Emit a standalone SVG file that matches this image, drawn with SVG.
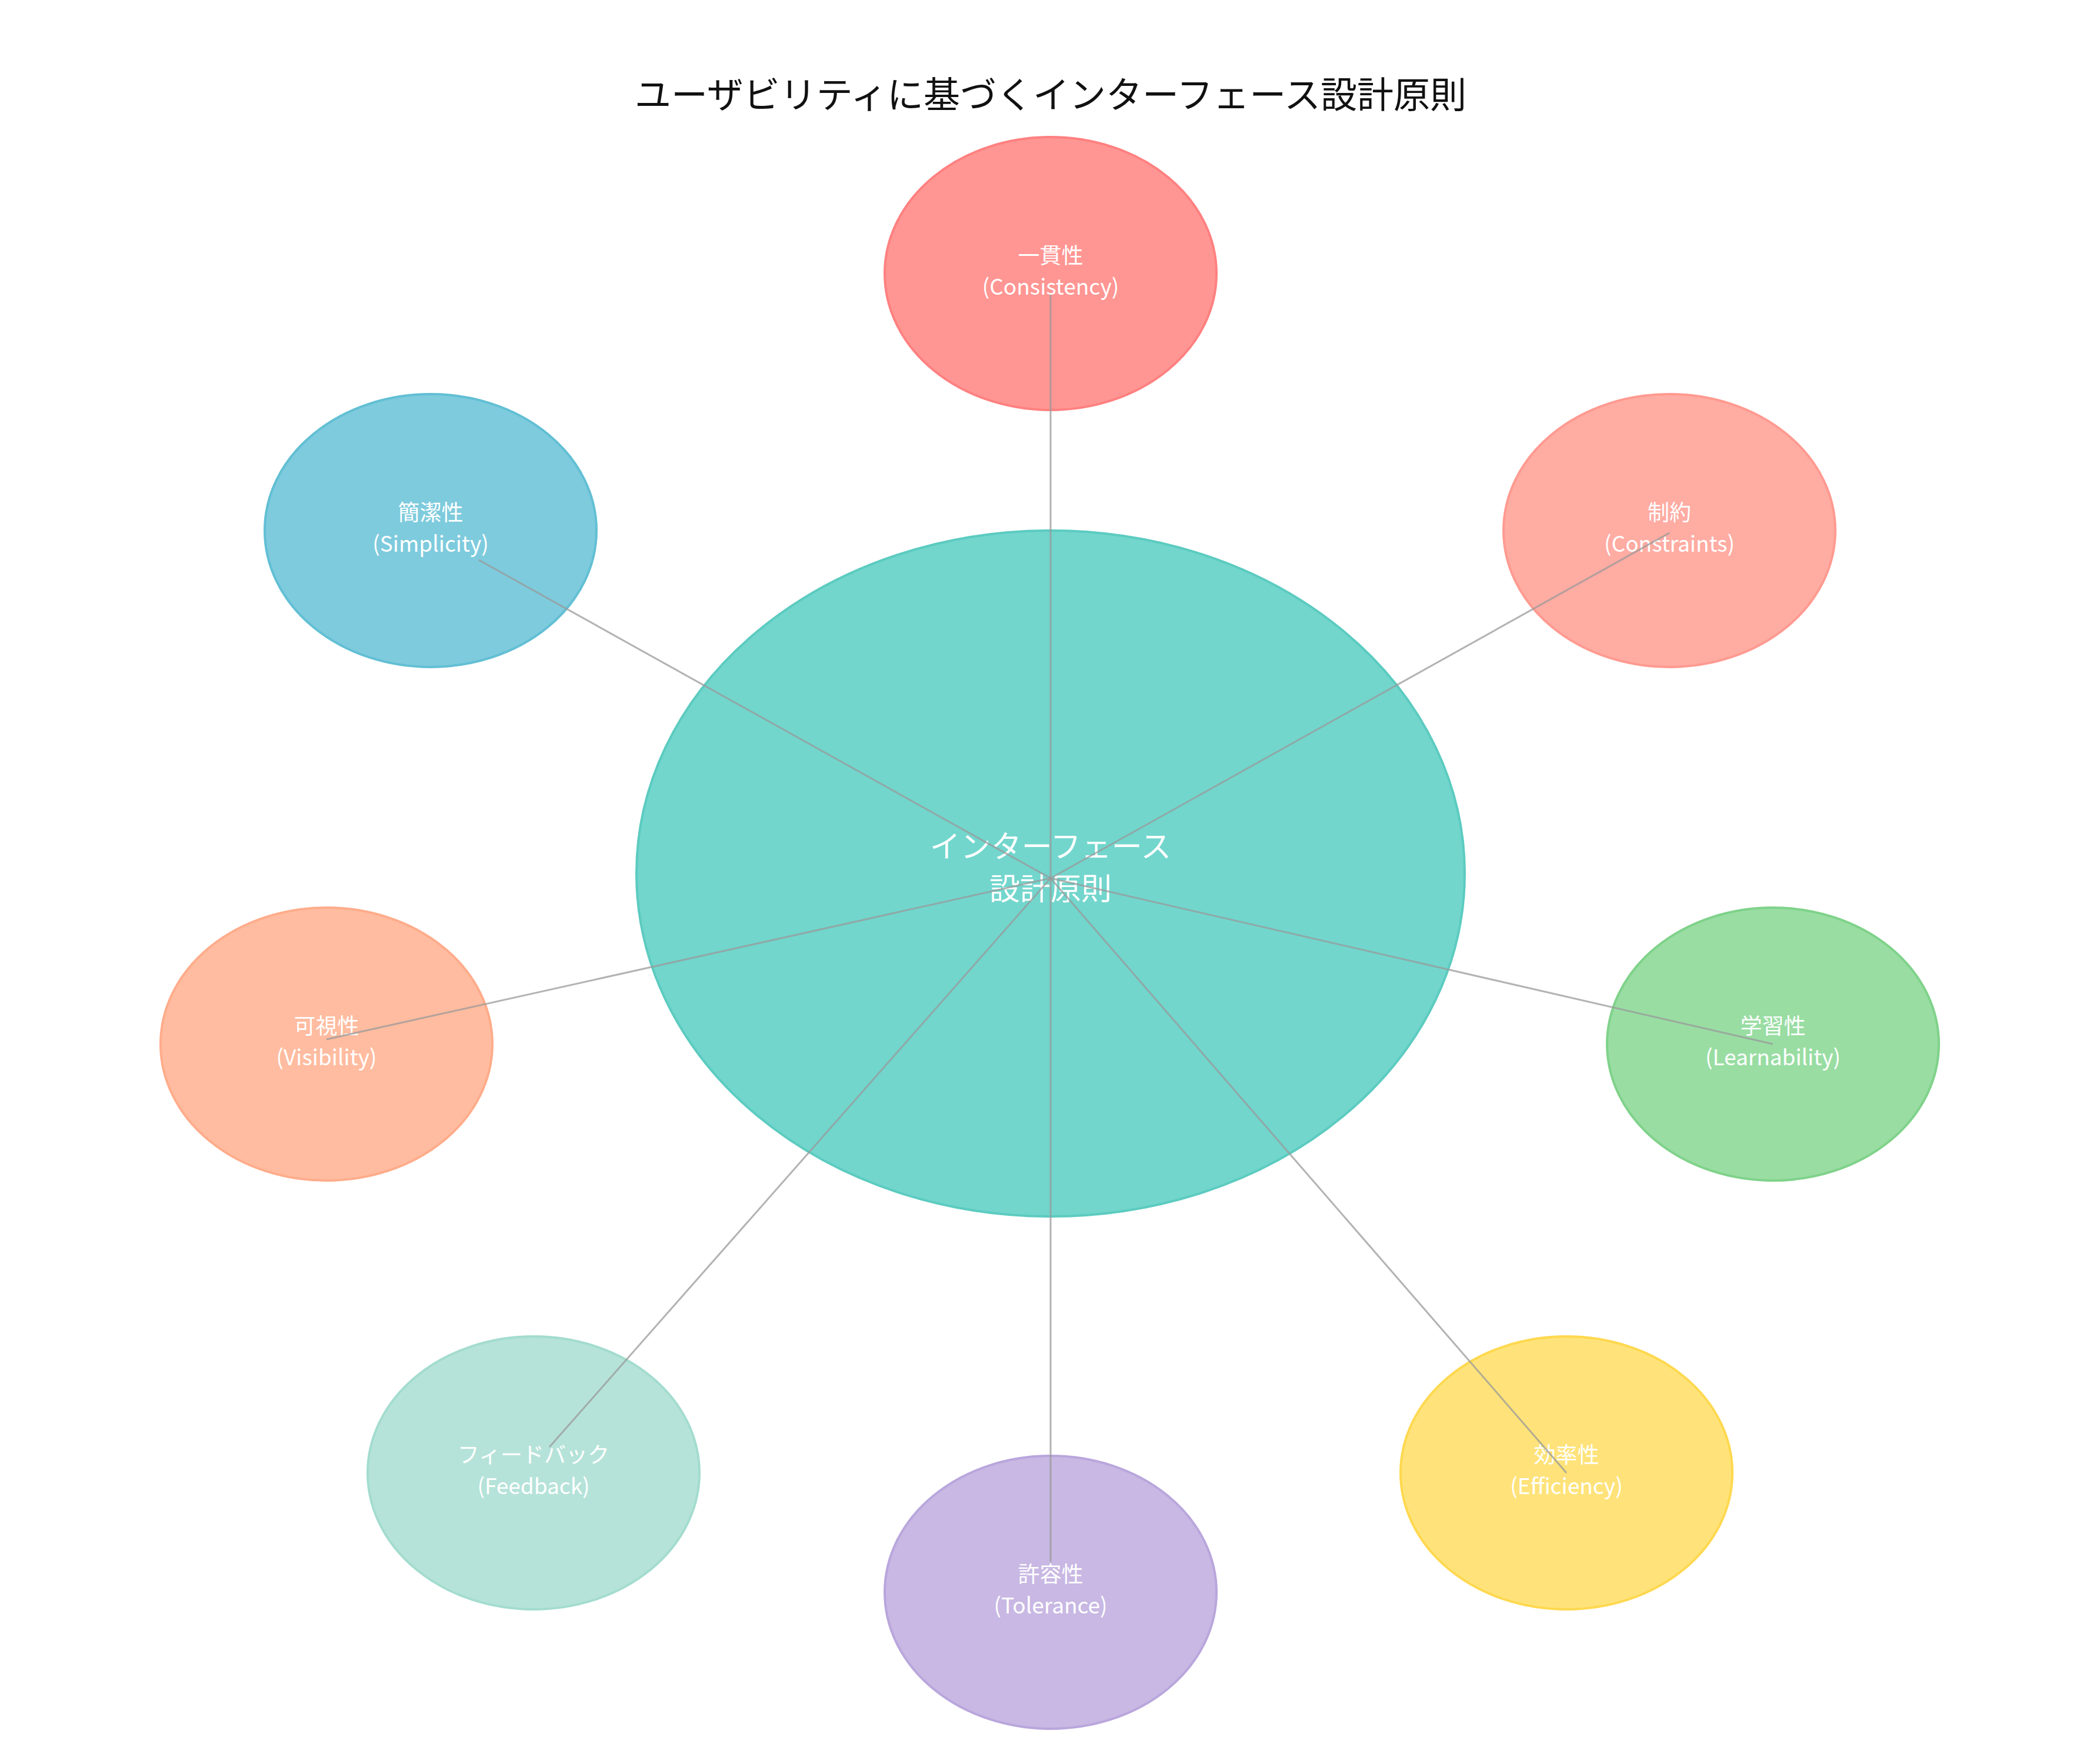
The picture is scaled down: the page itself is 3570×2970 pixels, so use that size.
<svg xmlns="http://www.w3.org/2000/svg" width="3570" height="2970" viewBox="0 0 3570 2970">
<style>
.t{font-family:"Noto Sans CJK JP","Liberation Sans",sans-serif;fill:#fff;text-anchor:middle}
.s{font-size:37px}
.c{font-size:52px}
.ln{stroke:#999;stroke-width:3;opacity:0.75;fill:none}
ellipse{stroke-width:4}
</style>
<rect width="3570" height="2970" fill="#fff"/>
<text x="1786" y="184" font-family="Noto Sans CJK JP,Liberation Sans,sans-serif" font-size="62" text-anchor="middle" fill="#111">ユーザビリティに基づくインターフェース設計原則</text>
<g id="center"><ellipse cx="1786" cy="1485" rx="704" ry="583" fill="#72D6CD" stroke="#5ccbc0"/>
<text class="t c" x="1786" y="1458">インターフェース</text><text class="t c" x="1786" y="1530">設計原則</text></g>
<g id="consistency"><ellipse cx="1786" cy="465" rx="282" ry="232" fill="#FF9693" stroke="#ff8080"/>
<text class="t s" x="1786" y="448">一貫性</text><text class="t s" x="1786" y="501">(Consistency)</text></g>
<g id="constraints"><ellipse cx="2838" cy="902" rx="282" ry="232" fill="#FFACA3" stroke="#ff9a90"/>
<text class="t s" x="2838" y="885">制約</text><text class="t s" x="2838" y="938">(Constraints)</text></g>
<g id="learnability"><ellipse cx="3014" cy="1775" rx="282" ry="232" fill="#99DDA3" stroke="#7fd28a"/>
<text class="t s" x="3014" y="1758">学習性</text><text class="t s" x="3014" y="1811">(Learnability)</text></g>
<g id="efficiency"><ellipse cx="2663" cy="2504" rx="282" ry="232" fill="#FFE37A" stroke="#ffd84f"/>
<text class="t s" x="2663" y="2487">効率性</text><text class="t s" x="2663" y="2540">(Efficiency)</text></g>
<g id="tolerance"><ellipse cx="1786" cy="2707" rx="282" ry="232" fill="#C8B8E3" stroke="#b9a6dc"/>
<text class="t s" x="1786" y="2690">許容性</text><text class="t s" x="1786" y="2743">(Tolerance)</text></g>
<g id="feedback"><ellipse cx="907" cy="2504" rx="282" ry="232" fill="#B6E3D9" stroke="#a3dccf"/>
<text class="t s" x="907" y="2487">フィードバック</text><text class="t s" x="907" y="2540">(Feedback)</text></g>
<g id="visibility"><ellipse cx="555" cy="1775" rx="282" ry="232" fill="#FFBCA0" stroke="#ffac8b"/>
<text class="t s" x="555" y="1758">可視性</text><text class="t s" x="555" y="1811">(Visibility)</text></g>
<g id="simplicity"><ellipse cx="732" cy="902" rx="282" ry="232" fill="#7ECBDD" stroke="#62bfd4"/>
<text class="t s" x="732" y="885">簡潔性</text><text class="t s" x="732" y="938">(Simplicity)</text></g>
<g id="connectors">
<line class="ln" x1="1786" y1="1493" x2="1786" y2="501"/>
<line class="ln" x1="1786" y1="1493" x2="2838" y2="906"/>
<line class="ln" x1="1786" y1="1493" x2="3014" y2="1775"/>
<line class="ln" x1="1786" y1="1493" x2="2663" y2="2504"/>
<line class="ln" x1="1786" y1="1493" x2="1786" y2="2655"/>
<line class="ln" x1="1786" y1="1493" x2="934" y2="2460"/>
<line class="ln" x1="1786" y1="1493" x2="555" y2="1767"/>
<line class="ln" x1="1786" y1="1493" x2="814" y2="952"/>
</g>
</svg>
